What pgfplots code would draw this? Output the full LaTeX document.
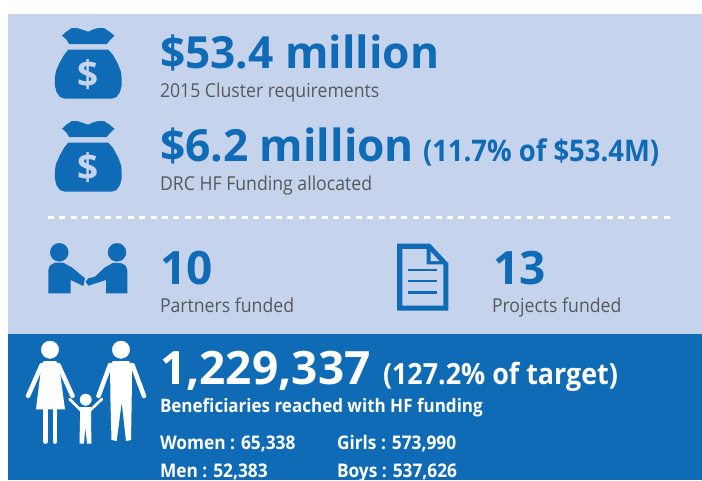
\documentclass[border=0pt]{standalone}
\usepackage{pgfplots}
\usepackage{pgfplotstable}
\pgfplotsset{compat=1.18}
\usepackage{fontspec}
\setmainfont[FakeStretch=0.92]{Open Sans}
\newfontfamily\bigfont{Open Sans}
\definecolor{panel}{HTML}{C5D3EC}
\definecolor{hfblue}{HTML}{106BB7}
\definecolor{txtgray}{HTML}{59595B}

% icon shapes, in picture pixels
\pgfplotstableread{
x y
62 35.7
66 32
71.7 28
77 28
88.3 31.7
93 29.5
98.3 28
104 28
110 32
114.3 35.7
111 39
106.7 44
69.3 44
66 39
}\bagtop
\pgfplotstableread{
x y
68.3 49.7
108.3 49.7
113 55
118 64
121 72
121.7 78
121.5 86
120 92
116.5 97
111.7 98.7
65 98.7
60 97
56.5 92
55 86
54.8 78
56 71
60 62
64 55
}\bagbody

\begin{document}
\begin{tikzpicture}
\begin{axis}[
    width=702pt, height=480pt, scale only axis,
    xmin=0, xmax=702, ymin=0, ymax=480,
    y dir=reverse, hide axis,
    nodes={inner sep=0pt, outer sep=0pt},
]
% background bands
\addplot[fill=white, draw=none] coordinates {(0,0)(702,0)(702,480)(0,480)} -- cycle;
\addplot[fill=panel, draw=none] coordinates {(8,14)(702,14)(702,333.5)(8,333.5)} -- cycle;
\addplot[fill=hfblue, draw=none] coordinates {(8,333.5)(702,333.5)(702,480)(8,480)} -- cycle;
\addplot[white, line width=3pt, dash pattern=on 6pt off 5.4pt] coordinates {(48,217)(672,217)};

% money bags
\addplot[fill=hfblue, draw=none] table[x=x, y=y] {\bagtop} -- cycle;
\addplot[fill=hfblue, draw=none] table[x=x, y=y] {\bagbody} -- cycle;
\addplot[fill=hfblue, draw=none] table[x=x, y expr=\thisrow{y}+93] {\bagtop} -- cycle;
\addplot[fill=hfblue, draw=none] table[x=x, y expr=\thisrow{y}+93] {\bagbody} -- cycle;
\node[anchor=center, text=panel, font=\bigfont\fontsize{37}{40}\selectfont\bfseries] at (axis cs:88.3,75) {\$};
\node[anchor=center, text=panel, font=\bigfont\fontsize{37}{40}\selectfont\bfseries] at (axis cs:88.3,168) {\$};

% handshake
\addplot[only marks, mark=*, mark size=9pt, color=hfblue] coordinates {(59.3,252.3)(117,252.3)};
\addplot[fill=hfblue, draw=none] coordinates {(48.3,293.3)(48.3,270)(50,265.5)(55,262.7)(63.3,262.7)(71.7,267.3)(85,278.3)(83.3,286)(70.7,280)(70.7,293.3)} -- cycle;
\addplot[fill=hfblue, draw=none] coordinates {(127.3,293.3)(127.3,270)(125.5,265.5)(121.7,263.3)(113.3,262.7)(105,267.3)(95,276.7)(88.3,278.3)(85.7,281.7)(88.3,285.7)(106,280)(106,293.3)} -- cycle;

% document
\addplot[fill=hfblue, draw=none] coordinates {(397,243.7)(430,243.7)(448.3,263.3)(448.3,310.7)(397,310.7)} -- cycle;
\addplot[fill=panel, draw=none] coordinates {(402.3,249)(426.7,249)(426.7,264.3)(443.3,264.3)(443.3,305.7)(402.3,305.7)} -- cycle;
\addplot[fill=panel, draw=none] coordinates {(430.7,251.7)(439.3,261)(430.7,261)} -- cycle;
\addplot[hfblue, line width=2.5pt] coordinates {(407.7,270)(437.3,270)};
\addplot[hfblue, line width=2.5pt] coordinates {(407.7,281)(437.3,281)};
\addplot[hfblue, line width=2.5pt] coordinates {(407.7,292.3)(437.3,292.3)};

% family
\addplot[only marks, mark=*, mark size=8.7pt, color=white] coordinates {(50,349.7)(121,349.7)};
\addplot[only marks, mark=*, mark size=5.7pt, color=white] coordinates {(85.7,399.7)};
\addplot[fill=white, draw=none] coordinates {(44,361)(56,361)(59,365)(65,409.3)(36,409.3)(41.5,365)} -- cycle;
\addplot[white, line width=4.5pt, line cap=round] coordinates {(41.7,365)(28,396)};
\addplot[white, line width=4.5pt, line cap=round] coordinates {(58.5,365)(72.5,396)};
\addplot[white, line width=4.8pt, line cap=round] coordinates {(45.7,409)(45.7,441.5)};
\addplot[white, line width=4.8pt, line cap=round] coordinates {(55,409)(55,441.5)};
\addplot[fill=white, draw=none] coordinates {(113,361)(129,361)(132,365)(131.7,401.7)(131,440)(126,441)(121.7,402.3)(116.7,441)(111.5,440)(110.5,401.7)(110,365)} -- cycle;
\addplot[white, line width=4.5pt, line cap=round] coordinates {(110,365)(98.5,396)};
\addplot[white, line width=4.5pt, line cap=round] coordinates {(132.5,365)(144,396)};
\addplot[fill=white, draw=none] coordinates {(80,407)(91,407)(91,420)(91.5,443.5)(87,443.5)(85.3,427)(84,443.5)(79.5,443.5)(80,420)} -- cycle;
\addplot[white, line width=2.6pt, line cap=round] coordinates {(81,410.5)(69.5,399)};
\addplot[white, line width=2.6pt, line cap=round] coordinates {(90,410.5)(102,399)};

% text
\node[anchor=base west, text=hfblue, font=\bigfont\fontsize{44.3}{50}\selectfont\bfseries] at (axis cs:160,68) {\$53.4 million};
\node[anchor=base west, text=txtgray, font=\fontsize{19.2}{22}\selectfont] at (axis cs:160,97) {2015 Cluster requirements};
\node[anchor=base west, text=hfblue, font=\bigfont\fontsize{44.3}{50}\selectfont\bfseries] at (axis cs:160,161) {\$6.2 million};
\node[anchor=base west, text=hfblue, font=\fontsize{29.8}{34}\selectfont\bfseries] at (axis cs:423,161) {(11.7\% of \$53.4M)};
\node[anchor=base west, text=txtgray, font=\fontsize{19.2}{22}\selectfont] at (axis cs:160,190) {DRC HF Funding allocated};
\node[anchor=base west, text=hfblue, font=\bigfont\fontsize{46}{50}\selectfont\bfseries] at (axis cs:160,284) {10};
\node[anchor=base west, text=txtgray, font=\fontsize{19.2}{22}\selectfont] at (axis cs:160,312) {Partners funded};
\node[anchor=base west, text=hfblue, font=\bigfont\fontsize{46}{50}\selectfont\bfseries] at (axis cs:493,284) {13};
\node[anchor=base west, text=txtgray, font=\fontsize{19.2}{22}\selectfont] at (axis cs:492,312) {Projects funded};
\node[anchor=base west, text=white, font=\bigfont\fontsize{46}{50}\selectfont\bfseries] at (axis cs:160,384) {1,229,337};
\node[anchor=base west, text=white, font=\fontsize{29.2}{34}\selectfont\bfseries] at (axis cs:383,384) {(127.2\% of target)};
\node[anchor=base west, text=white, font=\fontsize{18.5}{20}\selectfont\bfseries] at (axis cs:160,412) {Beneficiaries reached with HF funding};
\node[anchor=base west, text=white, font=\fontsize{18.8}{20}\selectfont\bfseries] at (axis cs:160,449) {Women : 65,338};
\node[anchor=base west, text=white, font=\fontsize{18.8}{20}\selectfont\bfseries] at (axis cs:337,449) {Girls : 573,990};
\node[anchor=base west, text=white, font=\fontsize{18.8}{20}\selectfont\bfseries] at (axis cs:160,477) {Men : 52,383};
\node[anchor=base west, text=white, font=\fontsize{18.8}{20}\selectfont\bfseries] at (axis cs:337,477) {Boys : 537,626};
\end{axis}
\end{tikzpicture}
\end{document}
